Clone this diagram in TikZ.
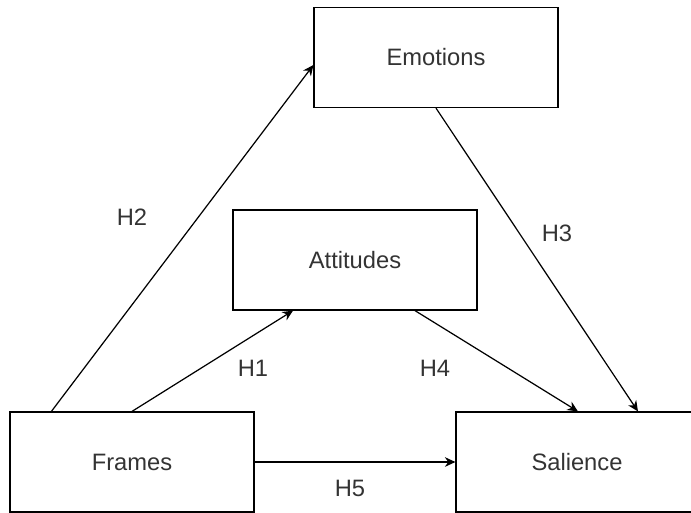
\documentclass[tikz,border=0pt]{standalone}
\usepackage{fontspec}
\setmainfont{Liberation Sans}
\usetikzlibrary{arrows.meta}
\begin{document}
\begin{tikzpicture}[x=0.02cm,y=-0.02cm]
    \tikzset{every node/.style={font=\fontsize{13.5}{16}\selectfont, text=black!80}}
    \tikzset{box/.style={draw, line width=0.7pt, minimum width=4.88cm, minimum height=2cm}}
    \tikzset{link/.style={line width=0.7pt, -{Stealth[length=6pt,width=5.5pt]}}}
    \clip (0,0) rectangle (691,512);
    % boxes
    \node[box] (em) at (436,57.5) {Emotions};
    \node[box] (at) at (355,260) {Attitudes};
    \node[box] (fr) at (132,462) {Frames};
    \node[box, minimum width=5.28cm] (sa) at (588,462) {\hspace*{-0.44cm}Salience};
    % hypotheses
    \draw[link] ([xshift=0.84cm]fr.north west) -- ([yshift=-0.15cm]em.west);
    \draw[link] (fr.north) -- ([xshift=-1.24cm]at.south);
    \draw[link] ([xshift=1.2cm]at.south) -- ([xshift=-0.2cm]sa.north);
    \draw[link] (em.south) -- ([xshift=1cm]sa.north);
    \draw[link] (fr.east) -- (sa.west);
    % labels
    \node (h1) at (253,368) {H1};
    \node (h2) at (132,217) {H2};
    \node (h3) at (557,233) {H3};
    \node (h4) at (435,368) {H4};
    \node (h5) at (350,488) {H5};
\end{tikzpicture}
\end{document}
